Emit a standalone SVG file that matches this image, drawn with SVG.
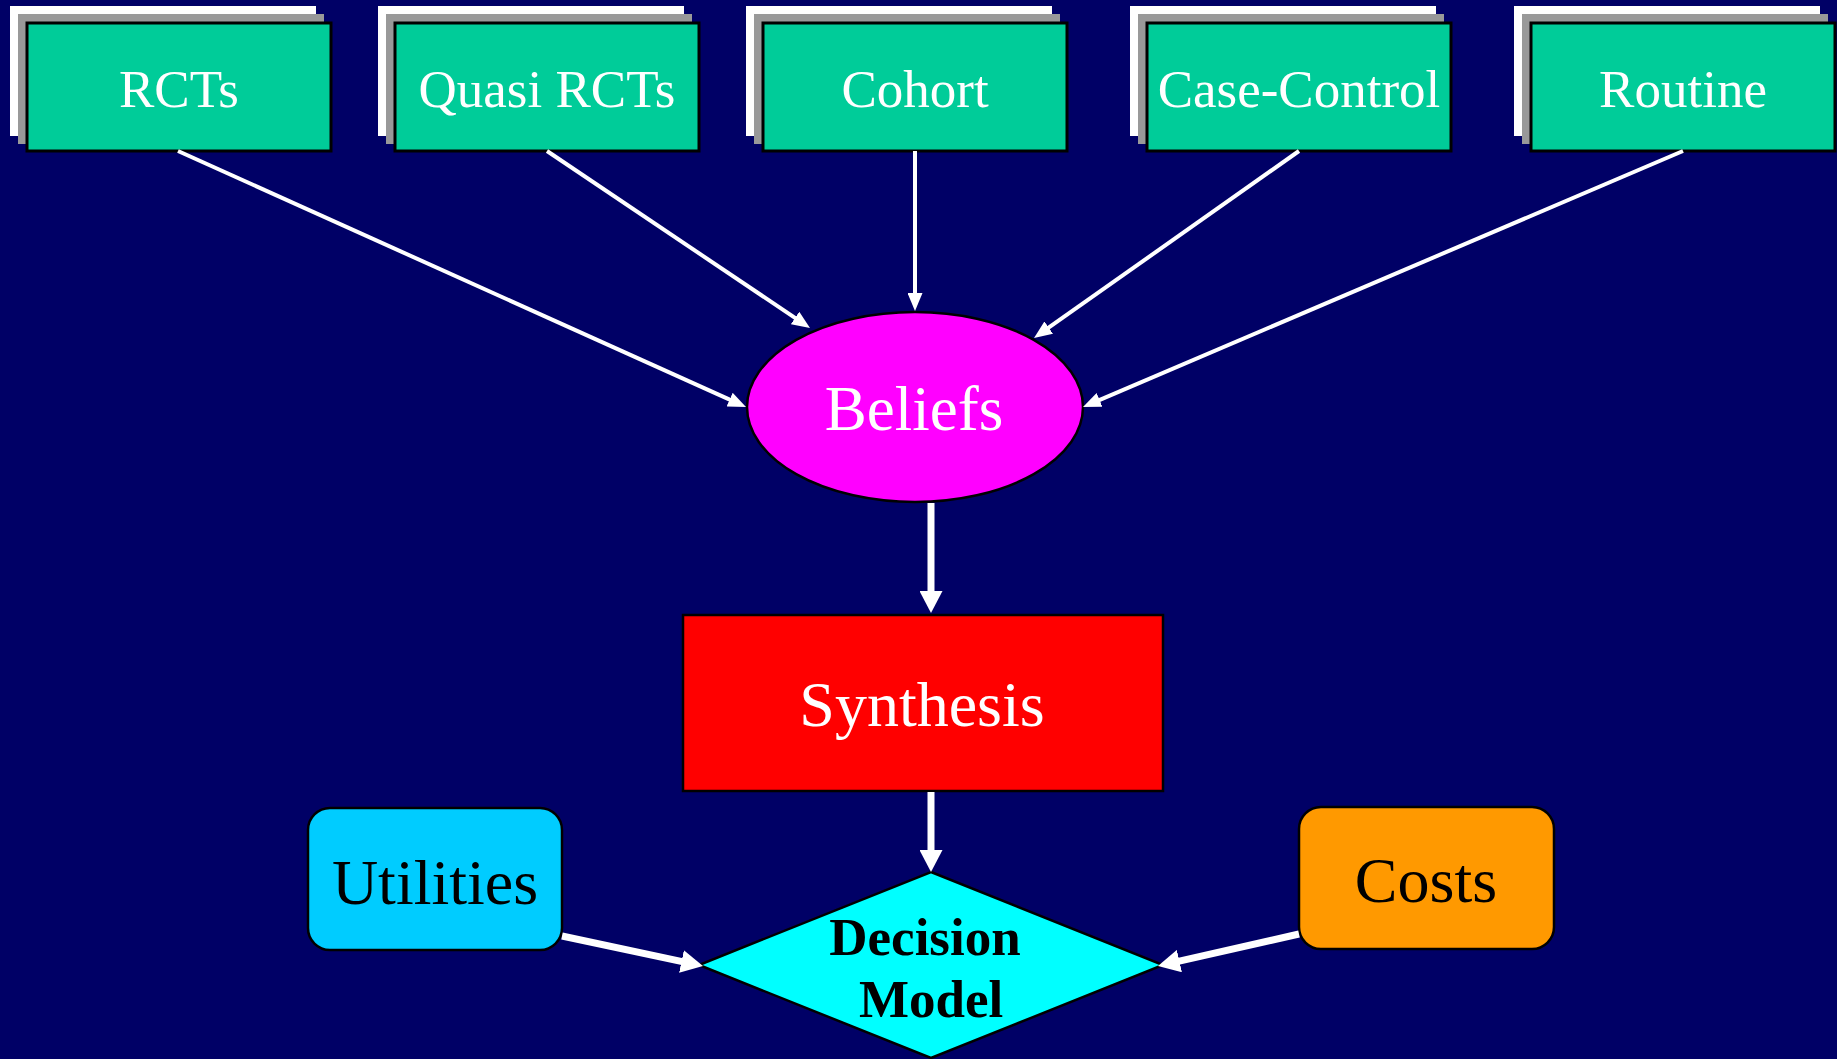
<svg xmlns="http://www.w3.org/2000/svg" width="1837" height="1059" viewBox="0 0 1837 1059">
  <style>
    .shw { fill: #ffffff; }
    .shg { fill: #999999; }
    .src { fill: #00cc99; stroke: #000000; stroke-width: 3; }
    .t { font-family: "Liberation Serif", "Times New Roman", serif; text-anchor: middle; }
    .tw { fill: #ffffff; font-size: 53px; }
    .big { font-size: 64px; }
    .thin { stroke: #ffffff; stroke-width: 4; fill: none; marker-end: url(#ah); }
    .thick { stroke: #ffffff; stroke-width: 7; fill: none; marker-end: url(#ahb); }
  </style>
  <defs>
    <marker id="ah" markerUnits="userSpaceOnUse" markerWidth="18" markerHeight="15" refX="8" refY="7.5" orient="auto">
      <path d="M0,0 L18,7.5 L0,15 z" fill="#ffffff"/>
    </marker>
    <marker id="ahb" markerUnits="userSpaceOnUse" markerWidth="22" markerHeight="23" refX="8" refY="11.5" orient="auto">
      <path d="M0,0 L22,11.5 L0,23 z" fill="#ffffff"/>
    </marker>
  </defs>
  <rect x="0" y="0" width="1837" height="1059" fill="#000066"/>

  <g id="rcts">
    <rect class="shw" x="10" y="6" width="306" height="130"/>
    <rect class="shg" x="18" y="14" width="306" height="130"/>
    <rect class="src" x="27" y="23" width="304" height="128"/>
    <text class="t tw" x="179" y="107">RCTs</text>
  </g>
  <g id="quasi-rcts">
    <rect class="shw" x="378" y="6" width="306" height="130"/>
    <rect class="shg" x="386" y="14" width="306" height="130"/>
    <rect class="src" x="395" y="23" width="304" height="128"/>
    <text class="t tw" x="547" y="107">Quasi RCTs</text>
  </g>
  <g id="cohort">
    <rect class="shw" x="746" y="6" width="306" height="130"/>
    <rect class="shg" x="754" y="14" width="306" height="130"/>
    <rect class="src" x="763" y="23" width="304" height="128"/>
    <text class="t tw" x="915" y="107">Cohort</text>
  </g>
  <g id="case-control">
    <rect class="shw" x="1130" y="6" width="306" height="130"/>
    <rect class="shg" x="1138" y="14" width="306" height="130"/>
    <rect class="src" x="1147" y="23" width="304" height="128"/>
    <text class="t tw" x="1299" y="107">Case-Control</text>
  </g>
  <g id="routine">
    <rect class="shw" x="1514" y="6" width="306" height="130"/>
    <rect class="shg" x="1522" y="14" width="306" height="130"/>
    <rect class="src" x="1531" y="23" width="304" height="128"/>
    <text class="t tw" x="1683" y="107">Routine</text>
  </g>

  <g id="beliefs">
    <ellipse cx="915" cy="407" rx="168" ry="95" fill="#ff00ff" stroke="#000000" stroke-width="2.5"/>
    <text class="t" x="914" y="430" font-size="63" fill="#ffffff">Beliefs</text>
  </g>
  <g id="synthesis">
    <rect x="683" y="615" width="480" height="176" fill="#ff0000" stroke="#000000" stroke-width="2.5"/>
    <text class="t big" x="922" y="726" fill="#ffffff">Synthesis</text>
  </g>
  <g id="decision-model">
    <polygon points="931,872 1163,965 931,1058 699,965" fill="#00ffff" stroke="#000000" stroke-width="2.5"/>
    <text class="t" x="925" y="955" font-size="53" font-weight="bold" fill="#000000">Decision</text>
    <text class="t" x="931" y="1017" font-size="53" font-weight="bold" fill="#000000">Model</text>
  </g>
  <g id="utilities">
    <rect x="308" y="808" width="254" height="142" rx="22" ry="22" fill="#00ccff" stroke="#000000" stroke-width="2.5"/>
    <text class="t big" x="435" y="904" fill="#000000">Utilities</text>
  </g>
  <g id="costs">
    <rect x="1299" y="807" width="255" height="142" rx="22" ry="22" fill="#ff9900" stroke="#000000" stroke-width="2.5"/>
    <text class="t big" x="1426" y="902" fill="#000000">Costs</text>
  </g>

  <g id="connectors">
    <line class="thin" x1="178" y1="151" x2="736.9" y2="402.9"/>
    <line class="thin" x1="547" y1="151" x2="801.7" y2="322.4"/>
    <line class="thin" x1="915" y1="151" x2="915" y2="301"/>
    <line class="thin" x1="1299" y1="151" x2="1042.2" y2="332.2"/>
    <line class="thin" x1="1683" y1="151" x2="1092.2" y2="403.1"/>
    <line class="thick" x1="931" y1="503" x2="931" y2="599"/>
    <line class="thick" x1="931" y1="792" x2="931" y2="858"/>
    <line class="thick" x1="562" y1="936" x2="689.3" y2="963.1"/>
    <line class="thick" x1="1299" y1="934" x2="1171.6" y2="962.9"/>
  </g>
</svg>
